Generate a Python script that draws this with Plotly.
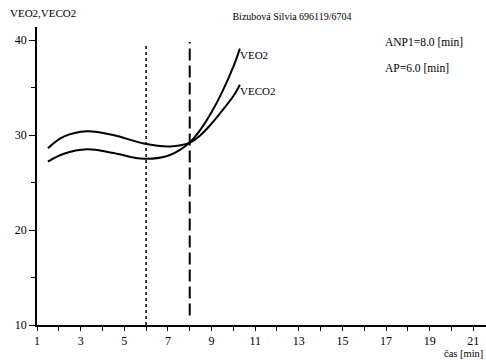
import plotly.graph_objects as go

# data
time_min = [1.5, 2.2, 3.3, 4.5, 5.9, 7.1, 8.0, 8.5, 9.0, 9.5, 10.0, 10.3]
veo2 = [27.2, 28.0, 28.5, 28.1, 27.5, 27.9, 29.2, 30.6, 32.4, 34.6, 37.2, 39.1]
veco2 = [28.6, 29.8, 30.4, 30.0, 29.1, 28.8, 29.2, 30.0, 31.2, 32.6, 34.1, 35.3]
ap = 6.0
anp1 = 8.0
title_text = "Bizubová Silvia 696119/6704"
x_ticks = [1, 3, 5, 7, 9, 11, 13, 15, 17, 19, 21]
y_ticks = [10, 20, 30, 40]

FONT = "Liberation Serif"
fig = go.Figure()
fig.add_trace(go.Scatter(x=time_min, y=veo2, mode="lines", line=dict(color="black", width=2, shape="spline"), showlegend=False))
fig.add_trace(go.Scatter(x=time_min, y=veco2, mode="lines", line=dict(color="black", width=2, shape="spline"), showlegend=False))

fig.add_shape(type="line", x0=ap, x1=ap, y0=10, y1=39.5, line=dict(color="black", width=1.5, dash="dot"))
fig.add_shape(type="line", x0=anp1, x1=anp1, y0=11, y1=39.8, line=dict(color="black", width=2, dash="12px,5px"))

fig.add_annotation(x=time_min[-1], y=veo2[-1], text="VEO2", showarrow=False, xanchor="left", yanchor="middle",
                   yshift=-6, xshift=-2, font=dict(family=FONT, size=11, color="black"))
fig.add_annotation(x=time_min[-1], y=veco2[-1], text="VECO2", showarrow=False, xanchor="left", yanchor="middle",
                   yshift=-6, xshift=-2, font=dict(family=FONT, size=11, color="black"))
fig.add_annotation(xref="paper", yref="paper", x=(383 - 37) / 449, y=(325 - 42) / 298, text=f"ANP1={anp1:.1f} [min]",
                   showarrow=False, xanchor="left", yanchor="middle", font=dict(family=FONT, size=11.5, color="black"))
fig.add_annotation(xref="paper", yref="paper", x=(383 - 37) / 449, y=(325 - 68) / 298, text=f"AP={ap:.1f} [min]",
                   showarrow=False, xanchor="left", yanchor="middle", font=dict(family=FONT, size=11.5, color="black"))
fig.add_annotation(xref="paper", yref="paper", x=(8 - 37) / 449, y=(325 - 13) / 298, text="VEO2,VECO2", showarrow=False,
                   xanchor="left", yanchor="middle", font=dict(family=FONT, size=11, color="black"))
fig.add_annotation(xref="paper", yref="paper", x=(485 - 37) / 449, y=(325 - 353) / 298, text="čas [min]", showarrow=False,
                   xanchor="right", yanchor="middle", font=dict(family=FONT, size=10.5, color="black"))

fig.update_layout(
    width=486, height=360,
    margin=dict(l=37, r=0, t=27, b=35, autoexpand=False),
    paper_bgcolor="white", plot_bgcolor="white",
    title=dict(text=title_text, x=292 / 486, xanchor="center", y=1 - 16 / 360, yanchor="middle",
               font=dict(family=FONT, size=10, color="black")),
    font=dict(family=FONT, size=12, color="black"),
)
fig.update_xaxes(range=[1, 21.58], tickvals=x_ticks, showgrid=False, zeroline=False,
                 showline=True, linecolor="black", linewidth=1.5,
                 ticks="outside", ticklen=4, tickcolor="black",
                 minor=dict(dtick=1, tick0=1, ticks="outside", ticklen=4, tickcolor="black"),
                 tickfont=dict(family=FONT, size=12))
fig.update_yaxes(range=[10, 41.37], tickvals=y_ticks, showgrid=False, zeroline=False,
                 showline=True, linecolor="black", linewidth=1.5,
                 ticks="outside", ticklen=6, tickcolor="black",
                 minor=dict(dtick=5, tick0=10, ticks="outside", ticklen=4, tickcolor="black"),
                 tickfont=dict(family=FONT, size=12))

fig.write_html("out.html", config={"displayModeBar": False},
               post_script="document.body.style.margin='0px';document.body.style.overflow='hidden';")
